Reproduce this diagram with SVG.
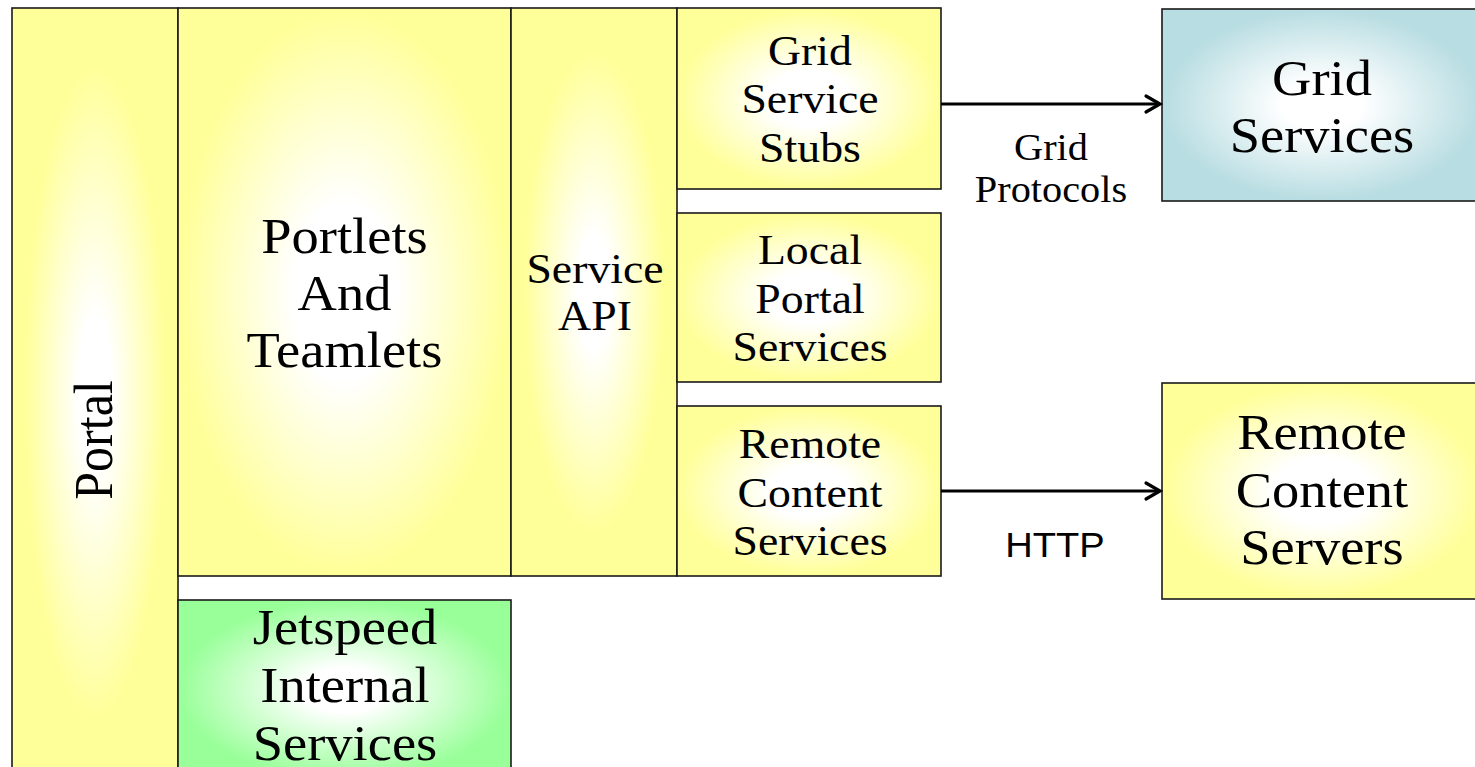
<svg xmlns="http://www.w3.org/2000/svg" width="1475" height="767" viewBox="0 0 1475 767">
  <style>
    .box { stroke: #1a1a1a; stroke-width: 1.6; }
    .lbl { font-family: "Liberation Serif", "Times New Roman", serif; fill: #000; text-anchor: middle; }
    .big { font-size: 50px; }
    .mid { font-size: 42px; }
    .sm { font-size: 37px; }
    .sans { font-family: "Liberation Sans", Arial, sans-serif; font-size: 35px; fill: #000; text-anchor: middle; }
    .conn { stroke: #000; stroke-width: 3.2; fill: none; }
    .head { stroke: #000; stroke-width: 3.2; fill: none; stroke-linecap: round; stroke-linejoin: miter; }
  </style>
  <defs>
    <radialGradient id="gy" cx="0.5" cy="0.5" r="0.62">
      <stop offset="0" stop-color="#ffffff"/>
      <stop offset="0.25" stop-color="#ffffff"/>
      <stop offset="0.8" stop-color="#ffff99"/>
      <stop offset="1" stop-color="#ffff99"/>
    </radialGradient>
    <radialGradient id="gp" cx="0.5" cy="0.5" r="0.5">
      <stop offset="0" stop-color="#ffffff"/>
      <stop offset="0.2" stop-color="#ffffff"/>
      <stop offset="0.85" stop-color="#ffff99"/>
      <stop offset="1" stop-color="#ffff99"/>
    </radialGradient>
    <radialGradient id="gg" cx="0.5" cy="0.5" r="0.62">
      <stop offset="0" stop-color="#ffffff"/>
      <stop offset="0.2" stop-color="#ffffff"/>
      <stop offset="0.8" stop-color="#99ff99"/>
      <stop offset="1" stop-color="#99ff99"/>
    </radialGradient>
    <radialGradient id="gb" cx="0.5" cy="0.5" r="0.62">
      <stop offset="0" stop-color="#ffffff"/>
      <stop offset="0.2" stop-color="#ffffff"/>
      <stop offset="0.8" stop-color="#b8dde2"/>
      <stop offset="1" stop-color="#b8dde2"/>
    </radialGradient>
  </defs>
  <rect width="1475" height="767" fill="#ffffff"/>

  <g id="portal">
    <rect class="box" x="12" y="8" width="166" height="770" fill="url(#gp)"/>
    <text class="lbl big" transform="translate(112,440) scale(1.09,1) rotate(-90)" x="0" y="0">Portal</text>
  </g>

  <g id="portlets">
    <rect class="box" x="178" y="8" width="333" height="568" fill="url(#gy)"/>
    <text class="lbl big" transform="translate(344.5,0) scale(1.09,1)"><tspan x="0" y="253">Portlets</tspan><tspan x="0" y="310">And</tspan><tspan x="0" y="367">Teamlets</tspan></text>
  </g>

  <g id="service-api">
    <rect class="box" x="511" y="8" width="166" height="568" fill="url(#gp)"/>
    <text class="lbl mid" transform="translate(595,0) scale(1.09,1)"><tspan x="0" y="283">Service</tspan><tspan x="0" y="330">API</tspan></text>
  </g>

  <g id="grid-service-stubs">
    <rect class="box" x="677" y="8" width="264" height="181" fill="url(#gy)"/>
    <text class="lbl mid" transform="translate(810,0) scale(1.09,1)"><tspan x="0" y="65">Grid</tspan><tspan x="0" y="113">Service</tspan><tspan x="0" y="162">Stubs</tspan></text>
  </g>

  <g id="local-portal-services">
    <rect class="box" x="677" y="213" width="264" height="169" fill="url(#gy)"/>
    <text class="lbl mid" transform="translate(810,0) scale(1.09,1)"><tspan x="0" y="264">Local</tspan><tspan x="0" y="313">Portal</tspan><tspan x="0" y="361">Services</tspan></text>
  </g>

  <g id="remote-content-services">
    <rect class="box" x="677" y="406" width="264" height="170" fill="url(#gy)"/>
    <text class="lbl mid" transform="translate(810,0) scale(1.09,1)"><tspan x="0" y="458">Remote</tspan><tspan x="0" y="507">Content</tspan><tspan x="0" y="555">Services</tspan></text>
  </g>

  <g id="jetspeed-internal-services">
    <rect class="box" x="178" y="600" width="333" height="180" fill="url(#gg)"/>
    <text class="lbl big" transform="translate(345,0) scale(1.09,1)"><tspan x="0" y="644">Jetspeed</tspan><tspan x="0" y="702">Internal</tspan><tspan x="0" y="760">Services</tspan></text>
  </g>

  <g id="grid-services">
    <rect class="box" x="1162" y="9" width="320" height="192" fill="url(#gb)"/>
    <text class="lbl big" transform="translate(1322,0) scale(1.09,1)"><tspan x="0" y="95">Grid</tspan><tspan x="0" y="152">Services</tspan></text>
  </g>

  <g id="remote-content-servers">
    <rect class="box" x="1162" y="383" width="320" height="216" fill="url(#gy)"/>
    <text class="lbl big" transform="translate(1322,0) scale(1.09,1)"><tspan x="0" y="449">Remote</tspan><tspan x="0" y="507">Content</tspan><tspan x="0" y="564">Servers</tspan></text>
  </g>

  <g id="connectors">
    <line class="conn" x1="941" y1="104" x2="1159" y2="104"/>
    <polyline class="head" points="1146,96 1160,104 1146,112"/>
    <text class="lbl sm" transform="translate(1051,0) scale(1.09,1)"><tspan x="0" y="160">Grid</tspan><tspan x="0" y="202">Protocols</tspan></text>
    <line class="conn" x1="941" y1="491" x2="1159" y2="491"/>
    <polyline class="head" points="1146,483 1160,491 1146,499"/>
    <text class="sans" transform="translate(1055,0) scale(1.09,1)" x="0" y="557">HTTP</text>
  </g>
</svg>
